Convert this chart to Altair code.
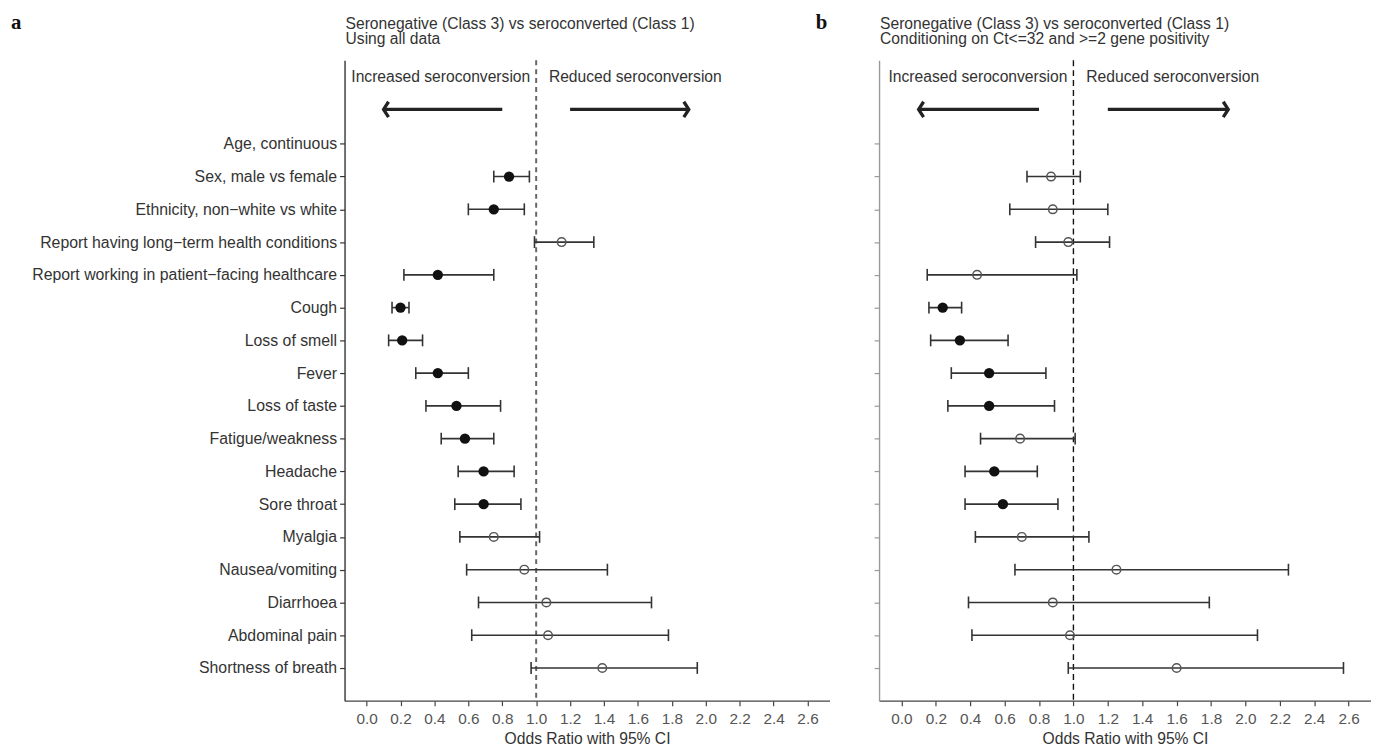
import json
import altair as alt
import pandas as pd

labels = [
    "Age, continuous",
    "Sex, male vs female",
    "Ethnicity, non\u2212white vs white",
    "Report having long\u2212term health conditions",
    "Report working in patient\u2212facing healthcare",
    "Cough",
    "Loss of smell",
    "Fever",
    "Loss of taste",
    "Fatigue/weakness",
    "Headache",
    "Sore throat",
    "Myalgia",
    "Nausea/vomiting",
    "Diarrhoea",
    "Abdominal pain",
    "Shortness of breath",
]

# Panel a: all data
a_or = [None, 0.84, 0.75, 1.15, 0.42, 0.20, 0.21, 0.42, 0.53, 0.58, 0.69, 0.69, 0.75, 0.93, 1.06, 1.07, 1.39]
a_lo = [None, 0.75, 0.60, 0.99, 0.22, 0.15, 0.13, 0.29, 0.35, 0.44, 0.54, 0.52, 0.55, 0.59, 0.66, 0.62, 0.97]
a_hi = [None, 0.96, 0.93, 1.34, 0.75, 0.25, 0.33, 0.60, 0.79, 0.75, 0.87, 0.91, 1.02, 1.42, 1.68, 1.78, 1.95]

# Panel b: conditioning on Ct<=32 and >=2 gene positivity
b_or = [None, 0.87, 0.88, 0.97, 0.44, 0.24, 0.34, 0.51, 0.51, 0.69, 0.54, 0.59, 0.70, 1.25, 0.88, 0.98, 1.60]
b_lo = [None, 0.73, 0.63, 0.78, 0.15, 0.16, 0.17, 0.29, 0.27, 0.46, 0.37, 0.37, 0.43, 0.66, 0.39, 0.41, 0.97]
b_hi = [None, 1.04, 1.20, 1.21, 1.02, 0.35, 0.62, 0.84, 0.89, 1.01, 0.79, 0.91, 1.09, 2.25, 1.79, 2.07, 2.57]

x_ticks = [0.0, 0.2, 0.4, 0.6, 0.8, 1.0, 1.2, 1.4, 1.6, 1.8, 2.0, 2.2, 2.4, 2.6]
ref_line = [1.0]

dir_text = ["Increased seroconversion", "Reduced seroconversion"]
dir_text_x = [0.965, 1.075]
arrow_tail = [0.8, 1.2]
arrow_tip = [0.1, 1.9]
arrow_dir = ["left", "right"]

title_a = ["Seronegative (Class 3) vs seroconverted (Class 1)", "Using all data"]
title_b = ["Seronegative (Class 3) vs seroconverted (Class 1)",
           "Conditioning on Ct<=32 and >=2 gene positivity"]

FONT = "Liberation Sans"
SERIF = "Liberation Serif"
FS = 15.8
FS_LAB = 16
FS_TICK = 15.5


def panel(or_, lo, hi, title_lines, letter, letter_x, show_labels,
          yaxis_color, dash_color, dash_width, dash, width):
    rows = [i for i in range(len(labels)) if or_[i] is not None]
    df = pd.DataFrame({
        "row": rows,
        "or": [or_[i] for i in rows],
        "lo": [lo[i] for i in rows],
        "hi": [hi[i] for i in rows],
    })
    df["sig"] = (df["hi"] < 1) | (df["lo"] > 1)
    sig_df = df[df["sig"]]
    ns_df = df[~df["sig"]]

    xscale = alt.Scale(domain=[-0.13, 2.73], nice=False, zero=False)
    xaxis = alt.Axis(values=x_ticks, format=".1f", title="Odds Ratio with 95% CI",
                     grid=False, labelFont=FONT, labelFontSize=FS_TICK, labelColor="#555",
                     titleFont=FONT, titleFontSize=FS, titleFontWeight="normal",
                     titleColor="#333", titlePadding=5, tickSize=5, labelPadding=6,
                     domainColor="#444", tickColor="#444", domainWidth=1.3, tickWidth=1.2,
                     labelFlush=False)
    yscale = alt.Scale(domain=[-2.55, 17], reverse=True, nice=False, zero=False)
    yaxis = alt.Axis(values=list(range(len(labels))),
                     labelExpr=json.dumps(labels) + "[datum.value]",
                     labels=show_labels, grid=False, labelLimit=600,
                     labelFont=FONT, labelFontSize=FS_LAB, labelColor="#333", labelPadding=3,
                     tickSize=5, tickColor=yaxis_color, domainColor=yaxis_color,
                     domainWidth=1.4, tickWidth=1.2, title=None)

    def X(field):
        return alt.X(field, type="quantitative", scale=xscale, axis=xaxis)

    Y = alt.Y("row:Q", scale=yscale, axis=yaxis)

    ref = alt.Chart(pd.DataFrame({"ref": ref_line})).mark_rule(
        color=dash_color, strokeWidth=dash_width, strokeDash=dash
    ).encode(x=X("ref"))

    bars = alt.Chart(df).mark_rule(color="#333", strokeWidth=1.6).encode(
        x=X("lo"), x2="hi", y=Y)
    cap_lo = alt.Chart(df).mark_tick(orient="vertical", size=12, thickness=1.6,
                                     color="#333", opacity=1).encode(x=X("lo"), y=Y)
    cap_hi = alt.Chart(df).mark_tick(orient="vertical", size=12, thickness=1.6,
                                     color="#333", opacity=1).encode(x=X("hi"), y=Y)
    filled = alt.Chart(sig_df).mark_circle(size=110, color="#111", opacity=1).encode(
        x=X("or"), y=Y)
    hollow = alt.Chart(ns_df).mark_point(shape="circle", filled=False, size=75,
                                         color="#555", strokeWidth=1.5, opacity=1).encode(
        x=X("or"), y=Y)

    ann_left = alt.Chart(pd.DataFrame({"x": [dir_text_x[0]], "t": [dir_text[0]], "row": [-2.05]})).mark_text(
        align="right", baseline="middle", font=FONT, fontSize=FS, color="#333"
    ).encode(x=X("x"), y=Y, text="t:N")
    ann_right = alt.Chart(pd.DataFrame({"x": [dir_text_x[1]], "t": [dir_text[1]], "row": [-2.05]})).mark_text(
        align="left", baseline="middle", font=FONT, fontSize=FS, color="#333"
    ).encode(x=X("x"), y=Y, text="t:N")

    arr_df = pd.DataFrame({"tail": arrow_tail, "tip": arrow_tip, "dir": arrow_dir,
                           "row": [-1.05, -1.05]})
    shafts = alt.Chart(arr_df).mark_rule(color="#222", strokeWidth=3.3).encode(
        x=X("tail"), x2="tip", y=Y)
    heads = alt.Chart(arr_df).mark_point(filled=False, size=240, color="#222",
                                         strokeWidth=3.3, opacity=1, strokeJoin="miter").encode(
        x=X("tip"), y=Y,
        shape=alt.Shape("dir:N", scale=alt.Scale(
            domain=["left", "right"],
            range=["M0.65,-1L0,0L0.65,1", "M-0.65,-1L0,0L-0.65,1"]), legend=None))

    # header texts (panel letter and two subtitle lines) above the plot area
    head1 = alt.Chart(pd.DataFrame({"t": [title_lines[0]]})).mark_text(
        align="left", baseline="alphabetic", font=FONT, fontSize=FS, color="#333"
    ).encode(x=alt.value(1), y=alt.value(-32), text="t:N")
    head2 = alt.Chart(pd.DataFrame({"t": [title_lines[1]]})).mark_text(
        align="left", baseline="alphabetic", font=FONT, fontSize=FS, color="#333"
    ).encode(x=alt.value(1), y=alt.value(-16.5), text="t:N")
    let = alt.Chart(pd.DataFrame({"t": [letter]})).mark_text(
        align="left", baseline="alphabetic", font=SERIF, fontSize=21, fontWeight="bold",
        color="#111"
    ).encode(x=alt.value(letter_x), y=alt.value(-31.5), text="t:N")

    return alt.layer(ref, bars, cap_lo, cap_hi, filled, hollow,
                     ann_left, ann_right, shafts, heads, head1, head2, let).properties(
        width=width, height=647)


left = panel(a_or, a_lo, a_hi, title_a, "a", -337, True, "#333", "#666", 2, [5, 4], 490)
right = panel(b_or, b_lo, b_hi, title_b, "b", -64, False, "#999", "#111", 1.4, [6, 4], 497)

chart = alt.hconcat(left, right, spacing=50, bounds="flush").properties(
    padding={"left": 3, "top": 0, "right": 0, "bottom": 0}
).configure_view(stroke=None)

chart.save("out.html", embed_options={"renderer": "svg", "actions": False})
